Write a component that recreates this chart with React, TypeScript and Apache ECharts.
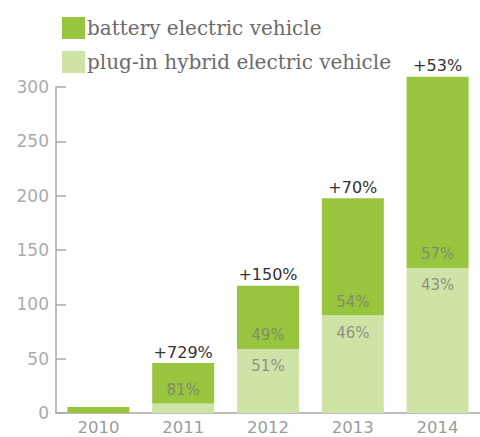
import React, { useEffect, useRef } from "react";
import * as echarts from "echarts";

const years = ["2010", "2011", "2012", "2013", "2014"];
const phevValues = [0, 8.7, 59, 90, 133.5];
const bevValues = [5.6, 37.3, 58, 107.6, 176];
const growthLabels = ["", "+729%", "+150%", "+70%", "+53%"];
const bevShareLabels = ["", "81%", "49%", "54%", "57%"];
const phevShareLabels = ["", "", "51%", "46%", "43%"];
const yTicks = [0, 50, 100, 150, 200, 250, 300];

const BEV_COLOR = "#98c53d";
const PHEV_COLOR = "#cfe3a6";
const SANS = "'DejaVu Sans', sans-serif";

export default function App() {
  const ref = useRef<HTMLDivElement>(null);
  useEffect(() => {
    if (!ref.current) return;
    const chart = echarts.init(ref.current, undefined, { renderer: "svg" });
    chart.setOption({
      animation: false,
      legend: {
        data: ["battery electric vehicle", "plug-in hybrid electric vehicle"],
        orient: "vertical",
        left: 57,
        top: 12,
        itemWidth: 23,
        itemHeight: 22,
        itemGap: 12,
        icon: "rect",
        selectedMode: false,
        textStyle: {
          fontFamily: "'DejaVu Serif', serif",
          fontSize: 20,
          color: "#6b6b6b",
          padding: [2, 0, 0, -3],
        },
      },
      grid: { left: 56, right: -4, top: 87, bottom: 24, containLabel: false },
      xAxis: {
        type: "category",
        data: years,
        axisLine: { lineStyle: { color: "#a8a8a8", width: 1.5 } },
        axisTick: { inside: true, length: 6, lineStyle: { color: "#a8a8a8", width: 1.5 } },
        axisLabel: { color: "#9c9c9c", fontSize: 16.5, fontFamily: SANS, margin: 6 },
      },
      yAxis: {
        type: "value",
        min: yTicks[0],
        max: yTicks[yTicks.length - 1],
        interval: 50,
        splitLine: { show: false },
        axisLine: { show: true, lineStyle: { color: "#a8a8a8", width: 1.5 } },
        axisTick: { show: true, inside: true, length: 10, lineStyle: { color: "#a8a8a8", width: 1.5 } },
        axisLabel: { color: "#ababab", fontSize: 17, fontFamily: SANS, margin: 7 },
      },
      series: [
        {
          name: "plug-in hybrid electric vehicle",
          type: "bar",
          stack: "ev",
          barWidth: 62,
          clip: false,
          itemStyle: { color: PHEV_COLOR },
          data: phevValues,
          label: {
            show: true,
            position: "insideTop",
            distance: 10,
            color: "#8e9284",
            fontSize: 15,
            fontFamily: SANS,
            formatter: (p: any) => phevShareLabels[p.dataIndex],
          },
        },
        {
          name: "battery electric vehicle",
          type: "bar",
          stack: "ev",
          barWidth: 62,
          clip: false,
          itemStyle: { color: BEV_COLOR },
          data: bevValues,
          label: {
            show: true,
            position: "insideBottom",
            distance: 6,
            color: "#7d8e68",
            fontSize: 15,
            fontFamily: SANS,
            formatter: (p: any) => bevShareLabels[p.dataIndex],
          },
        },
        {
          name: "growth",
          type: "bar",
          stack: "ev",
          barWidth: 62,
          clip: false,
          itemStyle: { color: "transparent" },
          data: years.map(() => 0),
          label: {
            show: true,
            position: "top",
            distance: 3,
            color: "#333",
            fontSize: 16,
            fontFamily: SANS,
            formatter: (p: any) => growthLabels[p.dataIndex],
          },
        },
      ],
    });
    return () => chart.dispose();
  }, []);
  return <div ref={ref} style={{ width: 480, height: 437, position: "absolute", left: 0, top: 0 }} />;
}
